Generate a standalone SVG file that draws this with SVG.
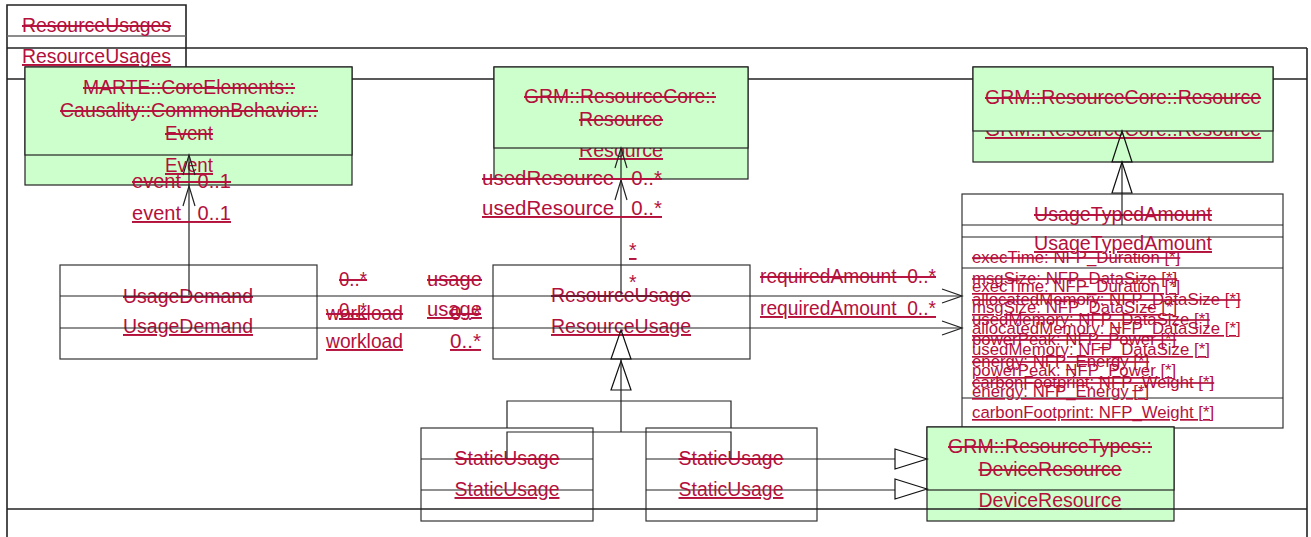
<svg xmlns="http://www.w3.org/2000/svg" width="1311" height="537" viewBox="0 0 1311 537">
<style>
text{font-family:"Liberation Sans",Arial,sans-serif;fill:#B4103C;font-size:19.4px}
.s{text-decoration:line-through;text-decoration-thickness:1.6px}
.u{text-decoration:underline;text-decoration-thickness:2px}
.m{text-anchor:middle}
.a{font-size:16.8px}
.box{fill:#fff;stroke:#333;stroke-width:1.2}
.g{fill:#CCFFCC;stroke:#222;stroke-width:1.2}
.ln{stroke:#222;stroke-width:1.2;fill:none}
.fr{stroke:#222;stroke-width:1.6;fill:none}
.tri{fill:none;stroke:#111;stroke-width:1.2}
</style>
<g id="frame">
<path class="fr" d="M7,537 V5 H186 V79"/>
<line x1="7" y1="36" x2="186" y2="36" stroke="#666" stroke-width="1.4"/>
<line class="fr" x1="7" y1="48" x2="1307" y2="48"/>
<line class="fr" x1="7" y1="79" x2="1307" y2="79"/>
<line class="fr" x1="1307" y1="48" x2="1307" y2="537"/>
<text class="s" x="22" y="32" textLength="149" lengthAdjust="spacingAndGlyphs">ResourceUsages</text>
<text class="u" x="22" y="63" textLength="149" lengthAdjust="spacingAndGlyphs">ResourceUsages</text>
</g>
<g id="event">
<rect class="g" x="25" y="67" width="327" height="118"/>
<text class="u m" x="189" y="172" textLength="48" lengthAdjust="spacingAndGlyphs">Event</text>
<rect class="g" x="25" y="67" width="327" height="88"/>
<text class="s m" x="189" y="94" textLength="212" lengthAdjust="spacingAndGlyphs">MARTE::CoreElements::</text>
<text class="s m" x="189" y="117" textLength="258" lengthAdjust="spacingAndGlyphs">Causality::CommonBehavior::</text>
<text class="s m" x="189" y="140" textLength="48" lengthAdjust="spacingAndGlyphs">Event</text>
</g>
<g id="resource">
<rect class="g" x="494" y="67" width="254" height="112"/>
<text class="u m" x="621" y="157" textLength="84" lengthAdjust="spacingAndGlyphs">Resource</text>
<rect class="g" x="494" y="67" width="254" height="81"/>
<text class="s m" x="620" y="103" textLength="192" lengthAdjust="spacingAndGlyphs">GRM::ResourceCore::</text>
<text class="s m" x="621" y="126" textLength="84" lengthAdjust="spacingAndGlyphs">Resource</text>
</g>
<g id="resourceCoreResource">
<rect class="g" x="973" y="67" width="300" height="95"/>
<text class="u m" x="1123" y="136" textLength="276" lengthAdjust="spacingAndGlyphs">GRM::ResourceCore::Resource</text>
<rect class="g" x="973" y="67" width="300" height="64"/>
<text class="s m" x="1123" y="104" textLength="276" lengthAdjust="spacingAndGlyphs">GRM::ResourceCore::Resource</text>
</g>
<g id="usageTypedAmount">
<rect class="box" x="962" y="194" width="321" height="234"/>
<line class="ln" x1="962" y1="225" x2="1283" y2="225"/>
<line class="ln" x1="962" y1="237" x2="1283" y2="237"/>
<line class="ln" x1="962" y1="268" x2="1283" y2="268"/>
<line class="ln" x1="962" y1="398" x2="1283" y2="398"/>
<text class="s m" x="1123" y="221" textLength="178" lengthAdjust="spacingAndGlyphs">UsageTypedAmount</text>
<text class="u m" x="1123" y="250" textLength="178" lengthAdjust="spacingAndGlyphs">UsageTypedAmount</text>
<text class="s a" x="972" y="263">execTime: NFP_Duration [*]</text>
<text class="s a" x="972" y="284">msgSize: NFP_DataSize [*]</text>
<text class="s a" x="972" y="305">allocatedMemory: NFP_DataSize [*]</text>
<text class="s a" x="972" y="325">usedMemory: NFP_DataSize [*]</text>
<text class="s a" x="972" y="345">powerPeak: NFP_Power [*]</text>
<text class="s a" x="972" y="367">energy: NFP_Energy [*]</text>
<text class="s a" x="972" y="388">carbonFootprint: NFP_Weight [*]</text>
<text class="u a" x="972" y="292">execTime: NFP_Duration [*]</text>
<text class="u a" x="972" y="313">msgSize: NFP_DataSize [*]</text>
<text class="u a" x="972" y="334">allocatedMemory: NFP_DataSize [*]</text>
<text class="u a" x="972" y="355">usedMemory: NFP_DataSize [*]</text>
<text class="u a" x="972" y="376">powerPeak: NFP_Power [*]</text>
<text class="u a" x="972" y="397">energy: NFP_Energy [*]</text>
<text class="u a" x="972" y="418">carbonFootprint: NFP_Weight [*]</text>
</g>
<g id="usageDemand">
<rect class="box" x="60" y="265" width="257" height="94"/>
<text class="s m" x="188" y="303" textLength="130" lengthAdjust="spacingAndGlyphs">UsageDemand</text>
<text class="u m" x="188" y="333" textLength="130" lengthAdjust="spacingAndGlyphs">UsageDemand</text>
</g>
<g id="resourceUsage">
<rect class="box" x="493" y="265" width="257" height="94"/>
<text class="s m" x="621" y="302" textLength="140" lengthAdjust="spacingAndGlyphs">ResourceUsage</text>
<text class="u m" x="621" y="333" textLength="140" lengthAdjust="spacingAndGlyphs">ResourceUsage</text>
</g>
<g id="staticUsage1">
<rect class="box" x="421" y="428" width="172" height="93"/>
<line class="ln" x1="421" y1="459" x2="593" y2="459"/>
<line class="ln" x1="421" y1="490" x2="593" y2="490" stroke="#555"/>
<text class="s m" x="507" y="465" textLength="105" lengthAdjust="spacingAndGlyphs">StaticUsage</text>
<text class="u m" x="507" y="496" textLength="105" lengthAdjust="spacingAndGlyphs">StaticUsage</text>
</g>
<g id="staticUsage2">
<rect class="box" x="646" y="428" width="171" height="93"/>
<line class="ln" x1="646" y1="459" x2="817" y2="459"/>
<line class="ln" x1="646" y1="490" x2="817" y2="490" stroke="#555"/>
<text class="s m" x="731" y="465" textLength="105" lengthAdjust="spacingAndGlyphs">StaticUsage</text>
<text class="u m" x="731" y="496" textLength="105" lengthAdjust="spacingAndGlyphs">StaticUsage</text>
</g>
<g id="deviceResource">
<rect class="g" x="927" y="427" width="247" height="94"/>
<text class="u m" x="1050" y="507" textLength="143" lengthAdjust="spacingAndGlyphs">DeviceResource</text>
<rect class="g" x="927" y="427" width="247" height="63"/>
<text class="s m" x="1050" y="453" textLength="204" lengthAdjust="spacingAndGlyphs">GRM::ResourceTypes::</text>
<text class="s m" x="1050" y="476" textLength="143" lengthAdjust="spacingAndGlyphs">DeviceResource</text>
</g>
<g id="connectors">
<line class="ln" x1="189" y1="295" x2="189" y2="155"/>
<polyline class="ln" points="183,175 189,155 195,175"/>
<polyline class="ln" points="183,206 189,186 195,206"/>
<text class="s" x="132" y="188" textLength="99" lengthAdjust="spacingAndGlyphs">event&#160;&#160;&#160;0..1</text>
<text class="u" x="132" y="220" textLength="99" lengthAdjust="spacingAndGlyphs">event&#160;&#160;&#160;0..1</text>
<line class="ln" x1="621" y1="295" x2="621" y2="148"/>
<polyline class="ln" points="615,168 621,148 627,168"/>
<polyline class="ln" points="615,200 621,180 627,200"/>
<text class="s" x="482" y="185" textLength="180" lengthAdjust="spacingAndGlyphs">usedResource&#160;&#160;&#160;0..*</text>
<text class="u" x="482" y="215" textLength="180" lengthAdjust="spacingAndGlyphs">usedResource&#160;&#160;&#160;0..*</text>
<text class="u" x="629" y="257">*</text>
<text x="629" y="289">*</text>
<line class="ln" x1="60" y1="296" x2="962" y2="296"/>
<line class="ln" x1="60" y1="328" x2="962" y2="328"/>
<text class="s" x="339" y="286" textLength="28" lengthAdjust="spacingAndGlyphs">0..*</text>
<text class="s" x="427" y="286" textLength="55" lengthAdjust="spacingAndGlyphs">usage</text>
<text class="s" x="326" y="320" textLength="77" lengthAdjust="spacingAndGlyphs">workload</text>
<text class="u" x="339" y="317" textLength="28" lengthAdjust="spacingAndGlyphs">0..*</text>
<text class="u" x="427" y="316" textLength="55" lengthAdjust="spacingAndGlyphs">usage</text>
<text class="s" x="450" y="320" textLength="31" lengthAdjust="spacingAndGlyphs">0..*</text>
<text class="u" x="326" y="348" textLength="77" lengthAdjust="spacingAndGlyphs">workload</text>
<text class="u" x="450" y="348" textLength="31" lengthAdjust="spacingAndGlyphs">0..*</text>
<polyline class="ln" points="942,289 962,296 942,303"/>
<polyline class="ln" points="942,321 962,328 942,335"/>
<text class="s" x="760" y="283" textLength="176" lengthAdjust="spacingAndGlyphs">requiredAmount&#160;&#160;0..*</text>
<text class="u" x="760" y="315" textLength="176" lengthAdjust="spacingAndGlyphs">requiredAmount&#160;&#160;0..*</text>
<polygon class="tri" points="621,330 631,359 611,359"/>
<polygon class="tri" points="621,361 631,390 611,390"/>
<line class="ln" x1="621" y1="359" x2="621" y2="432"/>
<polyline class="ln" points="507,428 507,401 731,401 731,428"/>
<polyline class="ln" points="507,459 507,432 731,432 731,459"/>
<line class="ln" x1="817" y1="459" x2="895" y2="459"/>
<line class="ln" x1="817" y1="490" x2="895" y2="490"/>
<polygon class="tri" points="927,459 895,449 895,469"/>
<polygon class="tri" points="927,489 895,479 895,499"/>
<line class="ln" x1="1122" y1="225" x2="1122" y2="162"/>
<polygon class="tri" points="1122,131 1132,162 1112,162"/>
<polygon class="tri" points="1122,162 1132,193 1112,193"/>
</g>
<line id="frameBottom" class="fr" x1="7" y1="509" x2="1307" y2="509"/>
</svg>
